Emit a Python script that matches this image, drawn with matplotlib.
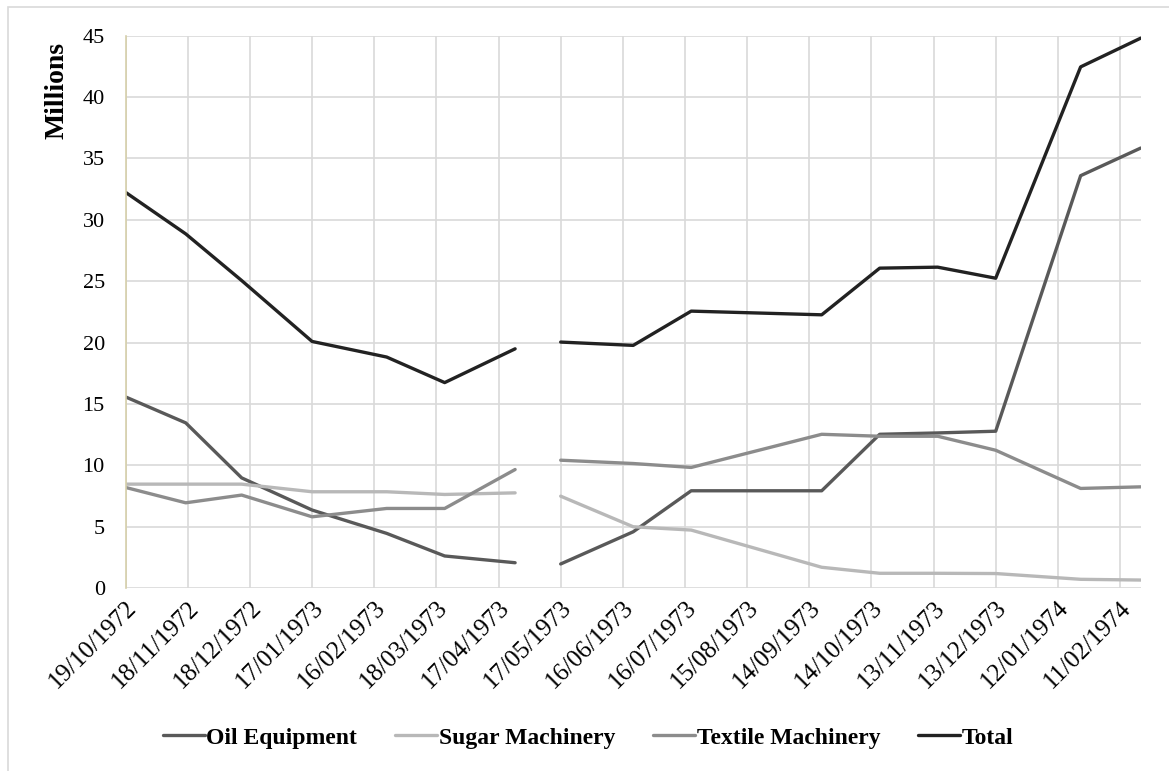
import numpy as np
import pandas as pd
import matplotlib
matplotlib.use("Agg")
import matplotlib.pyplot as plt
import matplotlib.dates as mdates
from matplotlib.patches import Rectangle

plt.rcParams["font.family"] = ["Liberation Serif", "DejaVu Serif"]

# Monthly machinery figures (millions); NaN marks the missing return
dates = ["19/10/1972", "17/11/1972", "14/12/1972", "17/01/1973", "22/02/1973",
         "22/03/1973", "25/04/1973", "06/05/1973", "17/05/1973", "21/06/1973",
         "19/07/1973", "20/09/1973", "18/10/1973", "15/11/1973", "13/12/1973",
         "23/01/1974", "21/02/1974"]
oil = [15.58, 13.47, 8.99, 6.37, 4.47, 2.63, 2.08, np.nan, 1.98, 4.60,
       7.94, 7.94, 12.54, 12.65, 12.79, 33.60, 35.85]
sugar = [8.48, 8.48, 8.48, 7.86, 7.86, 7.64, 7.77, np.nan, 7.50, 5.01,
         4.74, 1.71, 1.22, 1.22, 1.20, 0.73, 0.67]
textile = [8.21, 6.96, 7.59, 5.82, 6.50, 6.50, 9.67, np.nan, 10.43, 10.16,
           9.84, 12.54, 12.38, 12.38, 11.24, 8.13, 8.26]
total = [32.24, 28.86, 25.06, 20.10, 18.83, 16.75, 19.50, np.nan, 20.05, 19.78,
         22.57, 22.27, 26.07, 26.15, 25.25, 42.46, 44.80]

series = [("Oil Equipment", oil, "#595959"),
          ("Sugar Machinery", sugar, "#b8b8b8"),
          ("Textile Machinery", textile, "#8c8c8c"),
          ("Total", total, "#222222")]

x = pd.to_datetime(dates, format="%d/%m/%Y")

fig = plt.figure(figsize=(11.69, 7.71), dpi=100)
ax = fig.add_axes([0.1075, 0.237, 0.8683, 0.7167])

for name, vals, col in series:
    ax.plot(x, vals, color=col, lw=2.4, label=name, solid_capstyle="round")

# date axis with a tick every 30 days
start = pd.Timestamp("1972-10-19")
ticks = [start + pd.Timedelta(days=30 * i) for i in range(17)]
ax.set_xticks(ticks)
ax.xaxis.set_major_formatter(mdates.DateFormatter("%d/%m/%Y"))
ax.set_xlim(x[0], x[-1])
ax.set_ylim(0, 45)
ax.set_yticks(range(0, 46, 5))

ax.grid(True, color="#d9d9d9", lw=1.2)
ax.set_axisbelow(True)
for s in ["top", "right", "bottom"]:
    ax.spines[s].set_visible(False)
ax.spines["left"].set_color("#d6cfaa")
ax.spines["left"].set_linewidth(1.2)
ax.tick_params(axis="y", length=0, labelsize=16, pad=15)
ax.tick_params(axis="x", length=0, labelsize=18, pad=6)
for lbl in ax.get_xticklabels():
    lbl.set_rotation(45)
    lbl.set_ha("right")
    lbl.set_va("top")
    lbl.set_rotation_mode("anchor")

fig.text(0.049, 0.945, "Millions", rotation=90, ha="center", va="top",
         fontsize=20, fontweight="bold")

fig.legend(loc="center", bbox_to_anchor=(0.503, 0.043), ncol=4, frameon=False,
           prop={"size": 17, "weight": "bold"}, handlelength=1.8,
           handletextpad=0.05, columnspacing=1.6)

# outer chart border
fig.patches.append(Rectangle((8 / 1169, -0.1), 1.2, 1.1 - 7 / 771,
                             transform=fig.transFigure, fill=False,
                             edgecolor="#d9d9d9", lw=1.2))

fig.savefig("out.png", dpi=100)
